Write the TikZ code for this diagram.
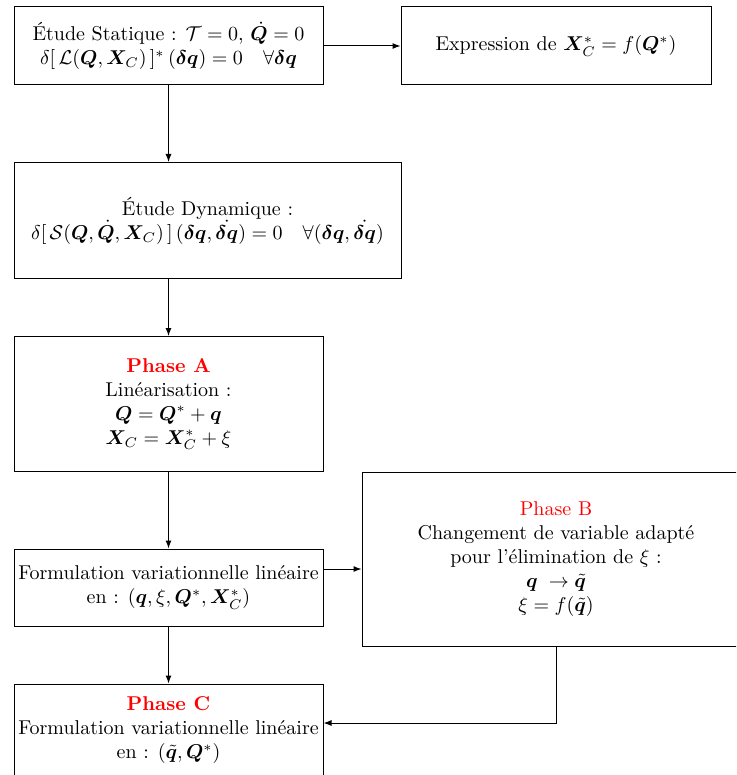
\documentclass[tikz,border=0pt]{standalone}
\usepackage{fontspec}
\usepackage{amsmath,amssymb,bm}
\usetikzlibrary{arrows.meta,calc}
\begin{document}
\begin{tikzpicture}[x=0.5pt,y=-0.5pt,
  box/.style={draw, line width=0.5pt, align=center, inner sep=0pt},
  arr/.style={-{Latex[length=4pt,width=3pt]}, line width=0.5pt}]
\useasboundingbox (0,0) rectangle (736,775);
\clip (0,0) rectangle (736,775);
\node[box, minimum width=154.5pt, minimum height=39pt] (A) at (168.5,46)
  {Étude Statique : $\mathcal{T}=0$, $\dot{\bm{Q}}=0$\\
   $\delta[\,\mathcal{L}(\bm{Q},\bm{X}_C)\,]^*\,(\bm{\delta q})=0\quad\forall\bm{\delta q}$};
\node[box, minimum width=155pt, minimum height=39pt] (B) at (556,46)
  {Expression de $\bm{X}_C^*=f(\bm{Q}^*)$};
\node[box, minimum width=193.5pt, minimum height=58pt] (C) at (207.5,220.5)
  {Étude Dynamique :\\
   $\delta[\,\mathcal{S}(\bm{Q},\dot{\bm{Q}},\bm{X}_C)\,]\,(\bm{\delta q},\bm{\dot{\delta q}})=0\quad\forall(\bm{\delta q},\bm{\dot{\delta q}})$};
\node[box, minimum width=154.5pt, minimum height=67.5pt] (D) at (168.5,404)
  {{\color{red}\bfseries Phase A}\\Linéarisation :\\$\bm{Q}=\bm{Q}^*+\bm{q}$\\$\bm{X}_C=\bm{X}_C^*+\xi$};
\node[box, minimum width=154.5pt, minimum height=38.5pt] (E) at (168.5,587.5)
  {Formulation variationnelle linéaire\\en : $(\bm{q},\xi,\bm{Q}^*,\bm{X}_C^*)$};
\node[box, minimum width=194pt, minimum height=87pt] (F) at (556,559)
  {{\color{red}Phase B}\\Changement de variable adapté\\pour l'élimination de $\xi$ :\\$\bm{q}\;\rightarrow\tilde{\bm{q}}$\\$\xi=f(\tilde{\bm{q}})$};
\node[box, minimum width=154.5pt, minimum height=46pt] (G) at (168.5,730)
  {{\color{red}\bfseries Phase C}\\Formulation variationnelle linéaire\\en : $(\tilde{\bm{q}},\bm{Q}^*)$};
\draw[arr] (A.east) -- (B.west);
\draw[arr] (A.south) -- (A.south |- C.north);
\draw[arr] (A.south |- C.south) -- (D.north);
\draw[arr] (D.south) -- (E.north);
\draw[arr] ([yshift=9.25pt]E.east) -- ([yshift=9.25pt]E.east -| F.west);
\draw[arr] (F.south) |- ([yshift=3.5pt]G.east);
\draw[arr] (E.south) -- (G.north);
\end{tikzpicture}
\end{document}
